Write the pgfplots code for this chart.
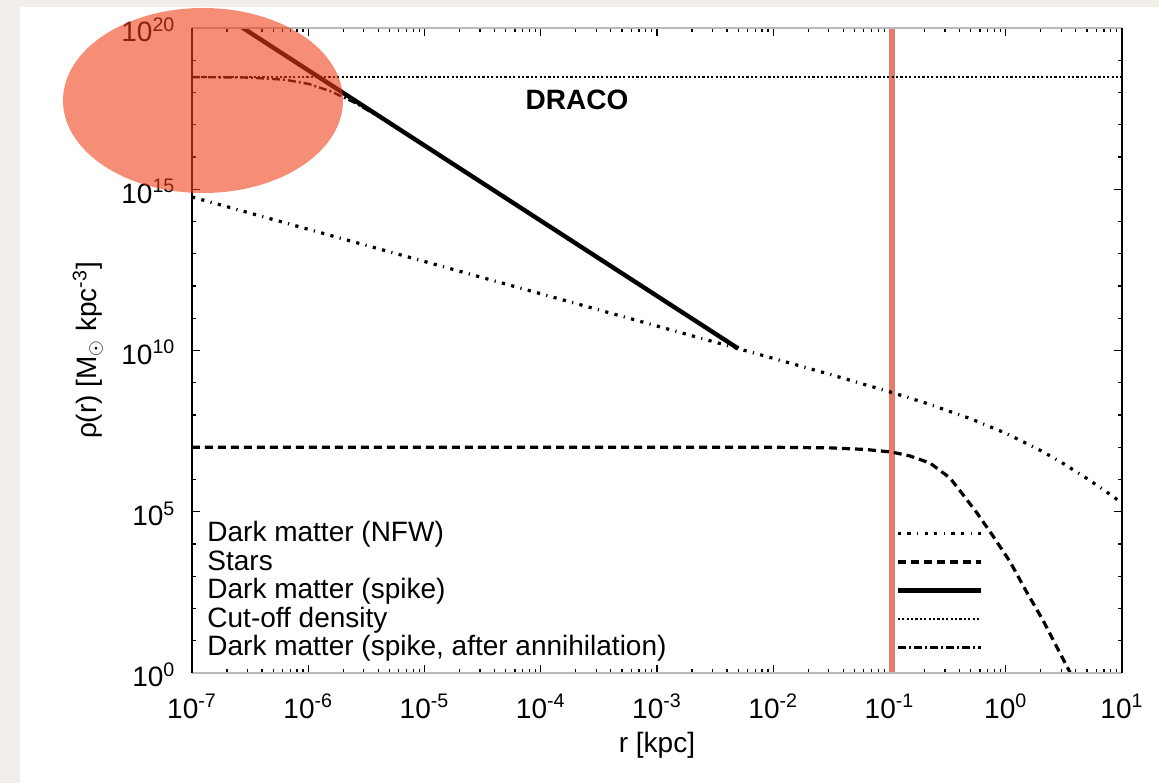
\documentclass[border=0pt]{standalone}
\usepackage{fontspec}
\setmainfont{Liberation Sans}
\usepackage{pgfplots}
\pgfplotsset{compat=1.18}
\definecolor{bgbeige}{RGB}{242,239,234}
\definecolor{redline}{RGB}{232,122,108}
\definecolor{ellred}{RGB}{240,60,20}
\begin{document}
\begin{tikzpicture}[font=\fontsize{14}{16.8}\selectfont]
\fill[bgbeige] (0,0) rectangle (579.5pt,391.5pt);
\fill[white] (10pt,0) rectangle (579.5pt,388pt);
\begin{axis}[
  at={(96pt,55pt)}, anchor=south west,
  scale only axis, width=465pt, height=322.5pt,
  xmode=log, ymode=log,
  xmin=1e-7, xmax=10, ymin=1, ymax=1e20,
  axis line style={draw=none},
  xtick={1e-7,1e-6,1e-5,1e-4,1e-3,1e-2,1e-1,1,10},
  xticklabels={10\textsuperscript{-7},10\textsuperscript{-6},10\textsuperscript{-5},10\textsuperscript{-4},10\textsuperscript{-3},10\textsuperscript{-2},10\textsuperscript{-1},10\textsuperscript{0},10\textsuperscript{1}},
  minor xtick={2e-7,3e-7,4e-7,5e-7,6e-7,7e-7,8e-7,9e-7,
    2e-6,3e-6,4e-6,5e-6,6e-6,7e-6,8e-6,9e-6,
    2e-5,3e-5,4e-5,5e-5,6e-5,7e-5,8e-5,9e-5,
    2e-4,3e-4,4e-4,5e-4,6e-4,7e-4,8e-4,9e-4,
    2e-3,3e-3,4e-3,5e-3,6e-3,7e-3,8e-3,9e-3,
    2e-2,3e-2,4e-2,5e-2,6e-2,7e-2,8e-2,9e-2,
    0.2,0.3,0.4,0.5,0.6,0.7,0.8,0.9,
    2,3,4,5,6,7,8,9},
  ytick={1,1e5,1e10,1e15,1e20},
  yticklabels={10\textsuperscript{0},10\textsuperscript{5},10\textsuperscript{10},10\textsuperscript{15},10\textsuperscript{20}},
  minor ytick={1e1,1e2,1e3,1e4,1e6,1e7,1e8,1e9,1e11,1e12,1e13,1e14,1e16,1e17,1e18,1e19},
  tick style={black, line width=0.6pt},
  major tick length=4pt, minor tick length=2pt,
  xticklabel style={yshift=-7pt},
  yticklabel style={xshift=-4.8pt, yshift=-1pt},
  xlabel={r [kpc]},
  ylabel={ρ(r) [M$_\odot$ kpc\textsuperscript{-3}]},
  x label style={at={(axis description cs:0.5,-0.1116)}, anchor=center},
  y label style={at={(axis description cs:-0.112,0.5)}, anchor=center},
  legend plot pos=right,
  legend cell align=left,
  legend style={at={(axis description cs:0.0151,0.2376)}, anchor=north west,
    draw=none, fill=none, inner sep=0pt, column sep=114pt, row sep=0pt,
    nodes={inner sep=0.5pt, text height=10.2pt, text depth=3.05pt}},
  legend image code/.code={\draw[#1] (0pt,0.5pt) -- (41.5pt,0.5pt);},
]
\addplot[redline, line width=3.3pt, forget plot] coordinates {(0.105,1) (0.105,1e20)};
\addplot[black, line width=1.6pt, dash pattern=on 1.6pt off 3.2pt on 1.6pt off 3.2pt on 0.6pt off 3.2pt] coordinates {
(1e-7,5.75e14) (1e-6,5.75e13) (1e-5,5.75e12) (1e-4,5.75e11) (1e-3,5.75e10) (1e-2,5.70e9) (3e-2,1.87e9) (0.1,5.26e8) (0.2,2.42e8) (0.5,7.64e7) (1,2.72e7) (2,7.89e6) (3,3.44e6) (5,1.07e6) (7,4.70e5) (10,1.87e5)};
\addlegendentry{Dark matter (NFW)}
\addplot[black, line width=1.6pt, dash pattern=on 4pt off 2.5pt] coordinates {
(1e-7,1e7) (1e-2,1e7) (0.0316,9.55e6) (0.0631,8.51e6) (0.105,7.08e6) (0.15,5.37e6) (0.223,3.24e6) (0.331,1.12e6) (0.404,4.47e5) (0.566,9.12e4) (0.776,1.78e4) (1.089,2.82e3) (1.524,309) (2.089,43.6) (2.924,4.17) (3.548,1.10) (3.8,0.5)};
\addlegendentry{Stars}
\addplot[black, line width=2.2pt] coordinates {(2e-7,2.09e20) (5e-3,1.15e10)};
\addlegendentry{Dark matter (spike)}
\addplot[black, line width=1.1pt, dash pattern=on 1.1pt off 1.1pt] coordinates {(1e-7,3e18) (10,3e18)};
\addlegendentry{Cut-off density}
\addplot[black, line width=1.2pt, dash pattern=on 4pt off 1.5pt on 1pt off 1.5pt] coordinates {
(1e-7,3.01e18) (3.16e-7,2.90e18) (6.31e-7,2.49e18) (1e-6,1.86e18) (1.585e-6,1.07e18) (2.51e-6,4.81e17) (3.98e-6,1.83e17) (6.31e-6,6.46e16)};
\addlegendentry{Dark matter (spike, after annihilation)}
\node[font=\fontsize{14}{16.8}\selectfont\bfseries] at (axis cs:2.05e-4,5.9e17) {DRACO};
\end{axis}
\draw[gray!55, line width=1pt] (96pt,55pt) -- (561pt,55pt) (96pt,377.5pt) -- (561pt,377.5pt);
\draw[black, line width=1.2pt] (96pt,55pt) -- (96pt,377.5pt) (561pt,55pt) -- (561pt,377.5pt);
\fill[ellred, opacity=0.58] (101.5pt,341.25pt) ellipse [x radius=70pt, y radius=46.25pt];
\end{tikzpicture}
\end{document}
